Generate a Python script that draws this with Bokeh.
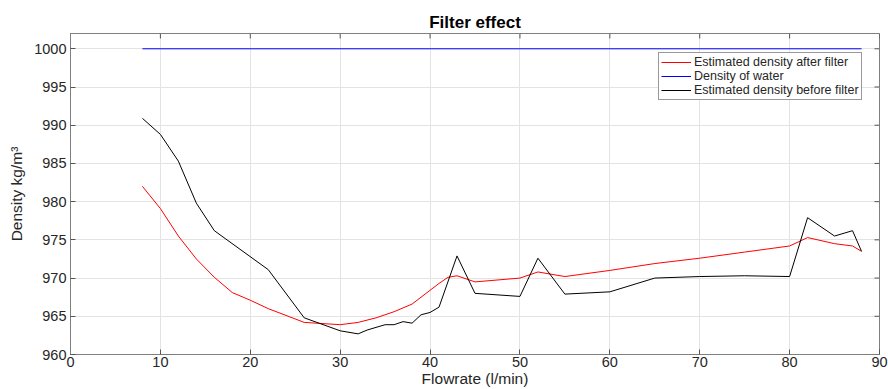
from bokeh.plotting import figure
from bokeh.models import FixedTicker, Range1d, Legend, LegendItem
from bokeh.embed import file_html
from bokeh.resources import INLINE
import math

# ---- data ----
x_after = [8, 10, 12, 14, 16, 18, 20, 22, 26, 30, 32, 34, 36, 38, 40, 41, 42, 43, 45,
           50, 52, 55, 60, 65, 70, 75, 80, 82, 85, 87, 88]
y_after = [982.0, 979.1, 975.5, 972.5, 970.1, 968.1, 967.1, 966.0, 964.2, 963.9, 964.2,
           964.8, 965.6, 966.6, 968.4, 969.3, 970.1, 970.3, 969.5, 970.0, 970.8, 970.2,
           971.0, 971.9, 972.6, 973.4, 974.2, 975.3, 974.5, 974.2, 973.5]

x_before = [8, 10, 12, 14, 16, 22, 26, 30, 32, 33, 35, 36, 37, 38, 39, 40, 41, 43, 45,
            50, 52, 55, 60, 65, 70, 75, 80, 82, 85, 87, 88]
y_before = [990.9, 988.8, 985.3, 979.8, 976.2, 971.1, 964.8, 963.1, 962.7, 963.2, 963.9,
            963.9, 964.3, 964.1, 965.2, 965.5, 966.2, 972.9, 968.0, 967.6, 972.6, 967.9,
            968.2, 970.0, 970.2, 970.3, 970.2, 977.9, 975.5, 976.2, 973.5]

x_water = [8, 88]
y_water = [1000, 1000]

x_ticks = [0, 10, 20, 30, 40, 50, 60, 70, 80, 90]
y_ticks = [960, 965, 970, 975, 980, 985, 990, 995, 1000]
x_limits = [0, 90]
y_limits = [960, 1002]

title_text = "Filter effect"
x_label = "Flowrate (l/min)"
y_label = "Density kg/m\u00b3"
names = ["Estimated density after filter", "Density of water", "Estimated density before filter"]

FONT = "Liberation Sans"
TXT = "#262626"

p = figure(width=888, height=389, output_backend="svg", toolbar_location=None,
           x_range=Range1d(*x_limits), y_range=Range1d(*y_limits),
           min_border_left=70, min_border_right=9, min_border_top=33, min_border_bottom=10,
           background_fill_color="white", border_fill_color="white")

p.title.text = title_text
p.title.align = "center"
p.title.text_font = FONT
p.title.text_font_size = "17px"
p.title.text_font_style = "bold"
p.title.text_color = "#000000"
p.title.standoff = 4

p.outline_line_color = "#7f7f7f"
p.outline_line_width = 1

xt = FixedTicker(ticks=x_ticks)
yt = FixedTicker(ticks=y_ticks)

for ax, tk in ((p.xaxis[0], xt), (p.yaxis[0], yt)):
    ax.ticker = tk
    ax.major_tick_in = 5
    ax.major_tick_out = 0
    ax.minor_tick_line_color = None
    ax.axis_line_color = "#7f7f7f"
    ax.major_tick_line_color = "#555555"
    ax.major_label_text_font = FONT
    ax.major_label_text_font_size = "14.5px"
    ax.major_label_text_color = TXT
    ax.axis_label_text_font = FONT
    ax.axis_label_text_font_style = "normal"
    ax.axis_label_text_color = TXT

p.xaxis[0].major_label_standoff = 2
p.xaxis[0].axis_label = x_label
p.xaxis[0].axis_label_text_font_size = "15.5px"
p.xaxis[0].axis_label_standoff = 0

p.yaxis[0].major_label_standoff = 4
p.yaxis[0].axis_label = y_label
p.yaxis[0].axis_label_text_font_size = "15.5px"
p.yaxis[0].axis_label_standoff = 6

p.xgrid.ticker = xt
p.ygrid.ticker = yt
p.xgrid.grid_line_color = "#e3e3e3"
p.ygrid.grid_line_color = "#e3e3e3"

# inward ticks on the top and right edges (markers clipped by the frame)
p.scatter(x=[x_limits[1]] * len(y_ticks), y=y_ticks, marker="dash", size=10,
          line_color="#555555", line_width=1)
p.scatter(x=x_ticks, y=[y_limits[1]] * len(x_ticks), marker="dash", size=10,
          angle=math.pi / 2, line_color="#555555", line_width=1)

r_after = p.line(x_after, y_after, line_color="#ff0000", line_width=1)
r_water = p.line(x_water, y_water, line_color="#0000ff", line_width=1)
r_before = p.line(x_before, y_before, line_color="#000000", line_width=1)

legend = Legend(items=[LegendItem(label=names[0], renderers=[r_after]),
                       LegendItem(label=names[1], renderers=[r_water]),
                       LegendItem(label=names[2], renderers=[r_before])],
                location=(588, 254))
legend.label_text_font = FONT
legend.label_text_font_size = "12.5px"
legend.label_text_color = TXT
legend.label_height = 12
legend.glyph_height = 12
legend.glyph_width = 30
legend.spacing = 0
legend.padding = 2
legend.margin = 0
legend.label_standoff = 3
legend.border_line_color = "#333333"
legend.border_line_width = 1
legend.background_fill_alpha = 1
p.add_layout(legend)

open("out.html", "w").write(file_html(p, INLINE))
